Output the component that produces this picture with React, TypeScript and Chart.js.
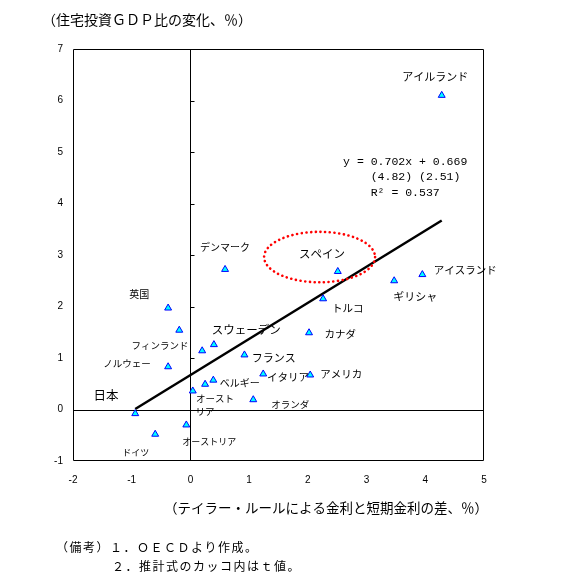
import React, { useEffect, useRef } from "react";
import { Chart, registerables } from "chart.js";

Chart.register(...registerables);

// ---- data ----
const xValues = [4.28, 3.95, 3.47, 2.51, 2.26, 2.02, 2.04, 1.24, 1.07, 0.92, 0.59, 0.4, 0.2, 0.39, 0.25, 0.04, -0.38, -0.19, -0.38, -0.94, -0.6, -0.07];
const yValues = [6.1, 2.62, 2.5, 2.68, 2.15, 1.49, 0.67, 0.69, 0.19, 1.06, 2.72, 1.26, 1.14, 0.57, 0.49, 0.36, 1.97, 1.54, 0.83, -0.08, -0.48, -0.3];

const trendX = [-0.94, 4.28];
const trendY = [0.01, 3.67];

const equationLines = ["y = 0.702x + 0.669", "    (4.82) (2.51)", "    R² = 0.537"];

const yAxisTitle = "（住宅投資ＧＤＰ比の変化、％）";
const xAxisTitle = "（テイラー・ルールによる金利と短期金利の差、％）";
const notes = ["（備考）１．ＯＥＣＤより作成。", "２．推計式のカッコ内はｔ値。"];

const countryNames = ["アイルランド", "アイスランド", "ギリシャ", "スペイン", "トルコ", "カナダ", "アメリカ", "イタリア", "オランダ", "フランス", "デンマーク", "スウェーデン", "ベルギー", "オースト", "リア", "オーストリア", "ドイツ", "日本", "ノルウェー", "フィンランド", "英国"];

// ---- annotation layout (data units for anchor, font size in px) ----
const labelX = [4.17, 4.68, 3.83, 2.24, 2.68, 2.55, 2.57, 1.66, 1.7, 1.42, 0.59, 0.95, 0.84, 0.42, 0.25, 0.32, -0.93, -1.44, -1.08, -0.52, -0.87];
const labelY = [6.46, 2.71, 2.19, 3.02, 1.97, 1.47, 0.69, 0.63, 0.09, 1.0, 3.16, 1.56, 0.52, 0.22, -0.04, -0.63, -0.83, 0.28, 0.9, 1.25, 2.24];
const labelSize = [11, 10.5, 11, 11.5, 10.5, 10.5, 10.5, 10.5, 9.5, 11, 10, 11.5, 10, 9.5, 9.5, 9, 9, 12.5, 9.5, 9.5, 10];

const ellipse = { cx: 2.2, cy: 2.96, rx: 0.945, ry: 0.49 };
const equationAnchor = { x: 2.6, y: [4.8, 4.51, 4.21] };

const JP = '"Noto Sans CJK JP", sans-serif';

const overlayPlugin = {
  id: "overlay",
  beforeDatasetsDraw(chart: any) {
    const { ctx, chartArea: a, scales } = chart;
    const xs = scales.x;
    const ys = scales.y;
    ctx.save();
    ctx.strokeStyle = "#000";
    ctx.lineWidth = 1;
    // border
    const L = Math.round(a.left) + 0.5;
    const R = Math.round(a.right) - 0.5;
    const T = Math.round(a.top) + 0.5;
    const B = Math.round(a.bottom) - 0.5;
    ctx.beginPath();
    ctx.moveTo(L, T);
    ctx.lineTo(R, T);
    ctx.lineTo(R, B);
    ctx.lineTo(L, B);
    ctx.closePath();
    ctx.stroke();
    // zero lines
    const x0 = Math.round(xs.getPixelForValue(0)) + 0.5;
    const y0 = Math.round(ys.getPixelForValue(0)) + 0.5;
    ctx.beginPath();
    ctx.moveTo(x0, T);
    ctx.lineTo(x0, B);
    ctx.moveTo(L, y0);
    ctx.lineTo(R, y0);
    for (let v = 1; v <= 6; v++) {
      const py = Math.round(ys.getPixelForValue(v)) + 0.5;
      ctx.moveTo(x0, py);
      ctx.lineTo(x0 + 4, py);
    }
    ctx.stroke();
    ctx.restore();
  },
  afterDatasetsDraw(chart: any) {
    const { ctx, scales } = chart;
    const xs = scales.x;
    const ys = scales.y;
    ctx.save();
    // ellipse (dotted red)
    const cx = xs.getPixelForValue(ellipse.cx);
    const cy = ys.getPixelForValue(ellipse.cy);
    const rx = Math.abs(xs.getPixelForValue(ellipse.cx + ellipse.rx) - cx);
    const ry = Math.abs(ys.getPixelForValue(ellipse.cy + ellipse.ry) - cy);
    ctx.strokeStyle = "#FF0000";
    ctx.lineWidth = 2.6;
    ctx.lineCap = "round";
    ctx.setLineDash([0.1, 4.6]);
    ctx.beginPath();
    ctx.ellipse(cx, cy, rx, ry, 0, 0, Math.PI * 2);
    ctx.stroke();
    ctx.setLineDash([]);
    // country labels
    ctx.fillStyle = "#000";
    ctx.textAlign = "center";
    ctx.textBaseline = "middle";
    countryNames.forEach((name, i) => {
      ctx.font = `${labelSize[i]}px ${JP}`;
      ctx.fillText(name, xs.getPixelForValue(labelX[i]), ys.getPixelForValue(labelY[i]));
    });
    // equation
    ctx.textAlign = "left";
    ctx.font = '11.5px "Liberation Mono", monospace';
    equationLines.forEach((t, i) => {
      ctx.fillText(t, xs.getPixelForValue(equationAnchor.x), ys.getPixelForValue(equationAnchor.y[i]));
    });
    ctx.restore();
  },
  afterDraw(chart: any) {
    const { ctx } = chart;
    ctx.save();
    ctx.fillStyle = "#000";
    ctx.textAlign = "left";
    ctx.textBaseline = "middle";
    ctx.font = `14px ${JP}`;
    ctx.fillText(yAxisTitle, 42, 20);
    ctx.font = `13.5px ${JP}`;
    ctx.fillText(xAxisTitle, 164, 508);
    ctx.font = `12px ${JP}`;
    (ctx as any).letterSpacing = "1.5px";
    ctx.fillText(notes[0], 56, 547);
    ctx.fillText(notes[1], 112, 566);
    ctx.restore();
  },
};

export default function App() {
  const ref = useRef<HTMLCanvasElement | null>(null);
  useEffect(() => {
    if (!ref.current) return;
    const chart = new Chart(ref.current, {
      type: "scatter",
      data: {
        datasets: [
          {
            type: "line",
            data: trendX.map((x, i) => ({ x, y: trendY[i] })),
            borderColor: "#000",
            borderWidth: 2.5,
            pointRadius: 0,
            fill: false,
            order: 2,
          } as any,
          {
            type: "scatter",
            data: xValues.map((x, i) => ({ x, y: yValues[i] })),
            pointStyle: "triangle",
            pointRadius: 4,
            backgroundColor: "#00FFFF",
            borderColor: "#0000FF",
            borderWidth: 1,
            order: 1,
          },
        ],
      },
      options: {
        responsive: false,
        animation: false,
        devicePixelRatio: 1,
        layout: { padding: { top: 49, right: 98, left: 0, bottom: 0 } },
        plugins: { legend: { display: false }, tooltip: { enabled: false } },
        scales: {
          x: {
            type: "linear",
            min: -2,
            max: 5,
            ticks: { stepSize: 1, color: "#000", padding: 13, font: { family: '"Liberation Sans"', size: 10 } },
            grid: { display: false, drawTicks: false },
            border: { display: false },
            afterFit: (s: any) => {
              s.height = 127;
            },
          },
          y: {
            type: "linear",
            min: -1,
            max: 7,
            ticks: { stepSize: 1, color: "#000", padding: 10, font: { family: '"Liberation Sans"', size: 10 } },
            grid: { display: false, drawTicks: false },
            border: { display: false },
            afterFit: (s: any) => {
              s.width = 73;
            },
          },
        },
      },
      plugins: [overlayPlugin],
    });
    return () => chart.destroy();
  }, []);
  return (
    <div style={{ position: "absolute", left: 0, top: 0, width: 582, height: 588, background: "#fff" }}>
      <canvas ref={ref} width={582} height={588} style={{ display: "block" }} />
    </div>
  );
}
